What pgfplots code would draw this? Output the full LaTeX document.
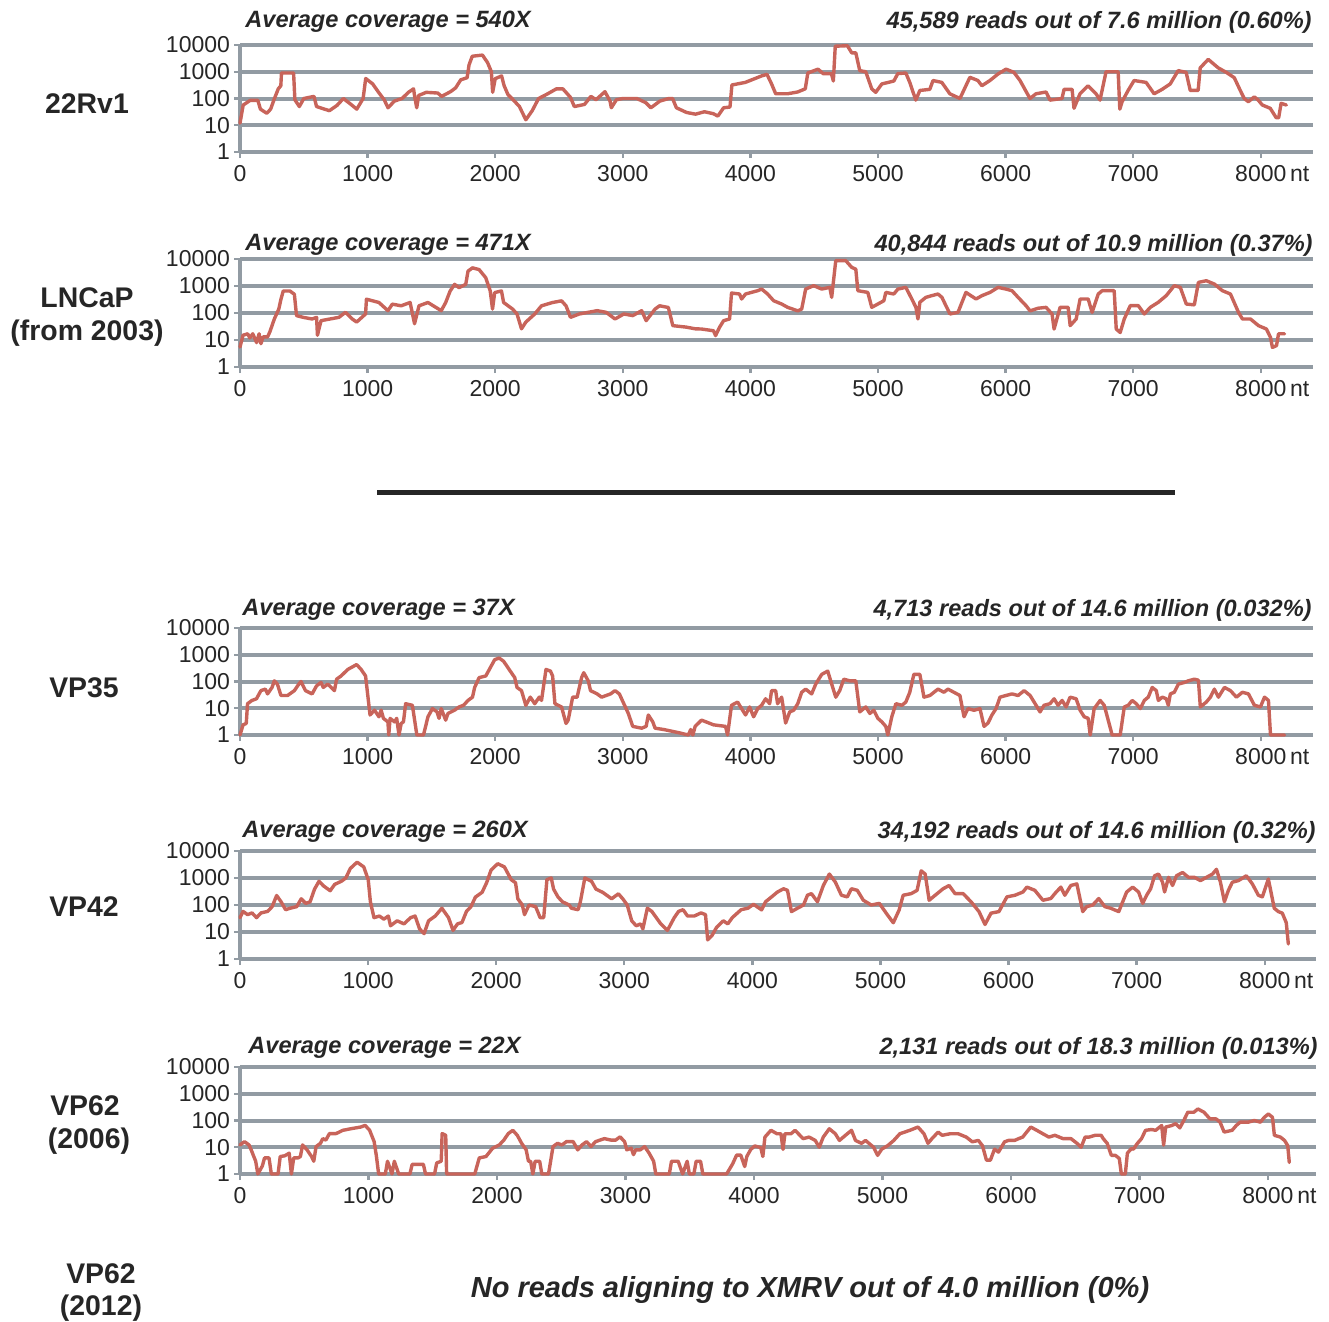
\documentclass[border=0pt]{standalone}
\usepackage{pgfplots}
\pgfplotsset{compat=1.18}
\usepackage{fontspec}
\setmainfont{Liberation Sans}
\definecolor{gridc}{RGB}{146,155,163}
\definecolor{linec}{RGB}{200,100,90}
\pgfplotsset{covstyle/.style={
  scale only axis,
  ymin=1, ymax=10000, xmin=0,
  axis x line=bottom, axis y line=left,
  axis line style={gridc, line width=1.6pt, -},
  ytick={1,10,100,1000,10000},
  yticklabels={1,10,100,1000,10000},
  yminorticks=false,
  xtick={0,1000,2000,3000,4000,5000,6000,7000,8000},
  xticklabels={0,1000,2000,3000,4000,5000,6000,7000,{8000\rlap{\,nt}}},
  ymajorgrids, grid style={gridc, line width=2pt},
  tick style={gridc, line width=1.2pt},
  major tick length=3pt,
  tick align=outside,
  ticklabel style={font=\fontsize{11.5}{12}\selectfont, text=black!85},
  yticklabel style={xshift=1.5pt},
  clip=false,
},
cov/.style={color=linec, line width=1.7pt, mark=none, line join=round, line cap=round}}
\begin{document}
\begin{tikzpicture}
\useasboundingbox (0,0) rectangle (664.5pt,-661pt);
\tikzset{ttl/.style={font=\fontsize{11.8}{12}\selectfont\bfseries\itshape, text=black!85, inner sep=0pt},
         row/.style={font=\fontsize{14.2}{15}\selectfont\bfseries, text=black!85, inner sep=0pt}}
% ---------- 22Rv1
\begin{semilogyaxis}[covstyle, at={(120pt,-76pt)}, anchor=south west, width=536.5pt, height=53.5pt, xmax=8409]
\addplot[cov] coordinates {(0,12)(25,57)(80,85)(140,85)(160,40)(210,28)(240,40)(270,100)(300,230)(320,300)(325,900)(420,900)(430,90)(465,50)(500,100)(580,120)(600,50)(700,35)(760,55)(810,100)(870,60)(915,40)(965,100)(985,560)(1040,350)(1090,160)(1130,90)(1160,45)(1210,80)(1270,100)(1320,170)(1360,230)(1370,110)(1385,45)(1400,130)(1460,170)(1550,160)(1580,120)(1650,180)(1690,250)(1730,500)(1780,600)(1795,1800)(1820,3800)(1900,4200)(1940,2200)(1970,1000)(1980,170)(2000,550)(2050,700)(2070,300)(2100,140)(2140,90)(2190,50)(2240,16)(2290,35)(2340,100)(2400,140)(2480,230)(2530,230)(2590,110)(2620,50)(2700,60)(2750,120)(2790,90)(2860,180)(2900,80)(2910,45)(2950,90)(3000,100)(3110,100)(3180,70)(3220,45)(3290,80)(3360,100)(3390,100)(3420,45)(3500,30)(3570,26)(3640,32)(3710,27)(3745,22)(3790,45)(3840,48)(3855,320)(3960,400)(4088,700)(4130,800)(4166,350)(4198,150)(4290,150)(4370,175)(4430,230)(4450,900)(4530,1250)(4570,850)(4635,850)(4650,450)(4665,9000)(4760,9400)(4794,5100)(4826,5100)(4857,1100)(4904,1000)(4951,230)(4982,170)(5030,350)(5124,450)(5155,850)(5218,900)(5249,400)(5296,87)(5328,200)(5406,220)(5431,470)(5500,400)(5563,150)(5642,100)(5720,620)(5783,470)(5814,300)(5877,470)(5940,820)(6003,1250)(6065,950)(6113,470)(6191,100)(6238,150)(6317,175)(6348,87)(6442,100)(6458,220)(6521,220)(6536,43)(6583,150)(6646,300)(6709,150)(6740,87)(6787,1000)(6882,1000)(6895,40)(6913,76)(6960,200)(7007,470)(7101,400)(7164,150)(7227,220)(7290,350)(7352,1100)(7415,950)(7447,200)(7509,200)(7525,1400)(7588,2900)(7666,1400)(7729,950)(7792,600)(7839,200)(7870,100)(7902,76)(7949,115)(7980,87)(8012,57)(8074,43)(8121,19)(8140,19)(8159,66)(8200,57)};
\end{semilogyaxis}
% ---------- LNCaP
\begin{semilogyaxis}[covstyle, at={(120pt,-183.5pt)}, anchor=south west, width=536.5pt, height=54pt, xmax=8409]
\addplot[cov] coordinates {(0,5.5)(24,15)(60,17)(77,12)(100,17)(130,8)(150,17)(164,7.3)(181,13)(216,13)(234,20)(269,60)(304,140)(321,325)(339,655)(391,655)(426,495)(443,80)(496,69)(565,60)(600,69)(607,15)(635,52)(705,60)(775,69)(827,106)(880,60)(914,46)(984,92)(991,325)(1089,245)(1159,122)(1194,213)(1263,185)(1333,245)(1368,40)(1403,185)(1473,245)(1577,122)(1612,245)(1647,655)(1682,1150)(1717,870)(1769,1150)(1787,3550)(1822,4700)(1874,4050)(1926,2020)(1961,655)(1979,140)(1996,570)(2049,655)(2066,245)(2136,140)(2171,92)(2206,26)(2240,46)(2310,92)(2363,185)(2450,245)(2520,282)(2555,185)(2590,69)(2659,92)(2799,122)(2869,106)(2939,60)(3008,92)(3078,80)(3148,122)(3183,52)(3253,140)(3288,185)(3357,160)(3392,34)(3497,30)(3567,26)(3617,25.5)(3711,22)(3727,14.5)(3758,29.5)(3790,52)(3837,60)(3852,550)(3915,505)(3931,330)(3962,505)(4057,670)(4088,770)(4135,505)(4182,285)(4245,215)(4292,162)(4371,120)(4402,140)(4433,770)(4496,1030)(4559,770)(4622,890)(4637,380)(4669,8700)(4747,8700)(4794,4900)(4826,4200)(4842,670)(4920,580)(4951,162)(4999,215)(5046,285)(5061,580)(5124,505)(5156,770)(5218,890)(5265,330)(5297,162)(5313,60)(5328,250)(5375,380)(5422,440)(5470,505)(5501,380)(5532,187)(5564,92)(5627,106)(5689,580)(5768,330)(5815,440)(5878,580)(5941,890)(6003,770)(6050,670)(6098,380)(6160,187)(6192,120)(6254,150)(6317,162)(6364,92)(6380,25.5)(6427,162)(6490,162)(6506,34)(6553,60)(6584,330)(6647,330)(6678,106)(6726,505)(6757,670)(6851,670)(6867,25.5)(6898,19)(6930,60)(6977,187)(7040,187)(7087,92)(7134,162)(7197,250)(7259,440)(7322,1030)(7369,890)(7416,215)(7479,200)(7511,1360)(7573,1570)(7636,1180)(7699,670)(7762,505)(7825,106)(7856,60)(7919,60)(7982,34)(8044,25.5)(8076,12.5)(8091,5.3)(8123,6.2)(8139,17)(8186,17)};
\end{semilogyaxis}
% ---------- VP35
\begin{semilogyaxis}[covstyle, at={(120pt,-367.5pt)}, anchor=south west, width=536.5pt, height=53.5pt, xmax=8409]
\addplot[cov] coordinates {(0,1)(24,2.4)(49,2.7)(59,14.8)(94,19.6)(129,22.6)(164,45.6)(199,52)(216,34.4)(251,60)(269,106)(293,80)(321,30)(373,30)(426,45.6)(461,80)(478,100)(513,45.6)(565,34.4)(600,69)(635,92)(653,60)(688,80)(740,45.6)(757,122)(792,161)(845,283)(914,430)(949,283)(984,161)(1019,5.6)(1054,8.5)(1089,4.8)(1106,8.5)(1124,4.2)(1159,3.1)(1166,1)(1176,4.2)(1211,3.1)(1228,4.2)(1246,1)(1263,2.7)(1281,3.1)(1298,14.8)(1351,12.9)(1386,1)(1438,1)(1473,4.8)(1508,9.7)(1543,7.4)(1560,4.2)(1577,9.7)(1612,3.6)(1630,6.4)(1682,8.5)(1717,11.2)(1752,12.9)(1787,19.6)(1822,26)(1839,60)(1874,140)(1926,161)(1961,325)(1996,655)(2031,755)(2066,570)(2118,245)(2153,140)(2171,60)(2206,45.6)(2240,12.9)(2275,26)(2310,14.8)(2345,26)(2363,19.6)(2398,283)(2433,245)(2450,161)(2468,14.8)(2520,11.2)(2555,2.7)(2572,3.6)(2607,26)(2642,26)(2677,140)(2694,213)(2729,106)(2747,45.6)(2799,34.4)(2834,26)(2904,34.4)(2939,45.6)(2973,34.4)(3008,14.8)(3043,6.4)(3078,2.1)(3148,1.8)(3183,2.1)(3200,5.6)(3235,3.1)(3253,1.8)(3322,1.6)(3445,1.2)(3514,1)(3532,1.6)(3549,1)(3567,2.1)(3617,3.6)(3711,2.4)(3805,2.1)(3821,1)(3852,12.9)(3900,17)(3931,9.7)(3962,5.6)(3994,11.2)(4025,4.8)(4057,9.7)(4088,12.9)(4119,22.6)(4151,14.8)(4166,45.6)(4198,45.6)(4213,14.8)(4245,26)(4276,2.8)(4308,7.3)(4339,8.4)(4371,14.8)(4402,39.6)(4433,52)(4480,34.4)(4512,80)(4559,185)(4606,245)(4637,80)(4669,26)(4700,45.6)(4732,122)(4779,106)(4826,106)(4857,7.3)(4904,11.2)(4936,6.4)(4967,8.4)(4999,4.2)(5030,3.1)(5061,2.1)(5077,1)(5108,4.8)(5140,14.8)(5187,12.9)(5218,17)(5249,39.6)(5281,185)(5328,185)(5360,26)(5407,30)(5470,52)(5517,39.6)(5548,52)(5595,39.6)(5642,30)(5674,4.8)(5705,9.7)(5752,8.4)(5799,9.7)(5831,2.1)(5862,2.8)(5893,5.6)(5925,9.7)(5956,26)(6003,30)(6050,34.4)(6098,30)(6145,45.6)(6192,30)(6239,12.9)(6270,7.3)(6301,12.9)(6348,14.8)(6380,22.6)(6411,12.9)(6443,19.6)(6474,11.2)(6505,26)(6553,22.6)(6584,8.4)(6616,4.8)(6647,4.2)(6663,1)(6694,9.7)(6741,19.6)(6773,12.9)(6804,3.6)(6835,1)(6898,1)(6930,11.2)(6961,12.9)(6992,19.6)(7024,14.8)(7055,9.7)(7087,19.6)(7118,26)(7149,60)(7181,45.6)(7197,19.6)(7228,26)(7259,22.6)(7275,12.9)(7291,34.4)(7322,39.6)(7354,80)(7401,92)(7432,106)(7479,122)(7511,112)(7526,11.2)(7573,17)(7605,26)(7636,52)(7668,26)(7715,60)(7762,45.6)(7809,26)(7856,39.6)(7903,34.4)(7950,12.9)(7997,11.2)(8029,26)(8060,19.6)(8076,1)(8186,1)};
\end{semilogyaxis}
% ---------- VP42
\begin{semilogyaxis}[covstyle, at={(120pt,-479.5pt)}, anchor=south west, width=538pt, height=54pt, xmax=8400]
\addplot[cov] coordinates {(0,34)(24,58)(59,44)(94,51)(129,34)(164,51)(216,58)(251,87)(286,225)(321,131)(356,67)(391,76)(443,87)(478,170)(513,115)(547,131)(582,388)(617,760)(652,510)(704,338)(739,580)(792,760)(826,1000)(861,2250)(914,3860)(966,2580)(1001,870)(1018,131)(1046,34)(1088,39)(1123,30)(1158,39)(1175,17)(1227,26)(1280,20)(1332,34)(1367,39)(1402,13)(1437,8.7)(1472,26)(1524,39)(1576,76)(1628,34)(1663,11.5)(1698,20)(1733,22.5)(1768,58)(1803,87)(1838,197)(1890,295)(1925,665)(1960,1970)(2012,3380)(2064,2580)(2117,870)(2151,665)(2169,170)(2204,100)(2221,44)(2256,100)(2308,87)(2343,34)(2371,34)(2396,870)(2430,1000)(2448,388)(2483,197)(2518,131)(2570,100)(2587,76)(2640,67)(2657,131)(2692,1000)(2744,760)(2779,388)(2831,295)(2866,225)(2901,170)(2954,260)(2988,170)(3023,100)(3058,26)(3093,17)(3128,20)(3145,13)(3180,76)(3215,58)(3250,34)(3285,20)(3337,11.5)(3390,34)(3424,58)(3459,67)(3494,39)(3546,39)(3599,51)(3634,44)(3651,5.1)(3686,7.6)(3721,15)(3773,26)(3808,20)(3843,34)(3912,67)(3965,76)(4009,106)(4072,66)(4103,132)(4150,200)(4196,303)(4243,400)(4274,350)(4305,57)(4352,76)(4399,100)(4430,230)(4461,264)(4508,132)(4554,528)(4601,1400)(4648,700)(4695,230)(4741,200)(4773,400)(4819,350)(4866,150)(4928,100)(4991,115)(5053,44)(5100,22)(5146,66)(5177,230)(5240,264)(5286,350)(5318,1840)(5349,1400)(5380,150)(5427,230)(5489,400)(5536,528)(5582,264)(5645,264)(5707,132)(5769,57)(5816,19)(5863,50)(5925,57)(5987,200)(6050,230)(6112,303)(6143,460)(6205,350)(6268,150)(6330,174)(6361,264)(6408,460)(6439,230)(6486,528)(6533,606)(6579,57)(6610,87)(6657,100)(6704,174)(6751,87)(6797,76)(6860,57)(6922,303)(6969,460)(7015,303)(7047,115)(7078,230)(7109,400)(7140,1210)(7171,1400)(7202,700)(7218,303)(7249,1060)(7280,528)(7311,1210)(7358,1600)(7405,1060)(7451,1060)(7498,800)(7545,1060)(7592,1400)(7623,2100)(7654,700)(7685,132)(7716,350)(7747,700)(7794,800)(7856,1210)(7903,606)(7950,230)(7981,200)(8028,920)(8074,76)(8106,57)(8137,50)(8168,22)(8184,3.6)};
\end{semilogyaxis}
% ---------- VP62 (2006)
\begin{semilogyaxis}[covstyle, at={(120pt,-587pt)}, anchor=south west, width=538pt, height=53.5pt, xmax=8374]
\addplot[cov] coordinates {(0,12.2)(35,16.2)(70,12.2)(87,8)(122,3)(139,1)(174,2)(191,4)(226,4)(244,1)(296,1)(313,4.5)(348,4.8)(383,6)(400,1)(418,4)(452,4)(470,4.5)(487,12.2)(522,8)(557,4.5)(574,3)(592,10.6)(626,14)(644,21)(668,18.5)(696,32.5)(748,32.5)(800,43)(870,50)(940,57)(974,66)(1009,43)(1044,16.2)(1062,4.5)(1079,1)(1131,1)(1148,3)(1183,1)(1201,3)(1235,1)(1322,1)(1340,2.3)(1427,2.3)(1444,1)(1514,1)(1531,2.6)(1566,3)(1573,32.5)(1601,28)(1608,1)(1827,1)(1862,4)(1914,4.5)(1966,9.2)(2018,12.2)(2053,18.5)(2088,32.5)(2123,43)(2158,28)(2192,14)(2227,8)(2245,3)(2262,3)(2279,1)(2297,3)(2332,3)(2349,1)(2401,1)(2436,10.6)(2471,14)(2506,12.2)(2540,16.2)(2593,16.2)(2628,8)(2662,12.2)(2697,16.2)(2732,10.6)(2767,16.2)(2801,18.5)(2836,21)(2888,18.5)(2923,18.5)(2958,24.5)(2993,16.2)(3010,8)(3045,9.2)(3062,5.3)(3080,8)(3115,8)(3149,10.6)(3184,6)(3219,3)(3236,1)(3341,1)(3358,3)(3410,3)(3445,1)(3480,3)(3497,1)(3532,1)(3550,3)(3584,3)(3602,1)(3787,1)(3834,2.4)(3865,5.1)(3897,5.1)(3928,1.9)(3944,4.5)(3975,8.3)(4006,11.2)(4053,9.7)(4069,4.5)(4085,24)(4132,43)(4179,32)(4210,32)(4226,8.3)(4241,32)(4288,32)(4320,43)(4382,21)(4429,24)(4477,18)(4508,10)(4539,24)(4586,49)(4633,32)(4665,18)(4712,28)(4759,43)(4790,18)(4837,14)(4868,18)(4931,10)(4962,5)(4994,8.5)(5041,11.5)(5088,18)(5135,32)(5213,43)(5276,57)(5323,32)(5354,14)(5385,21)(5433,37)(5464,28)(5527,32)(5589,32)(5652,24)(5699,16)(5746,18)(5778,11.5)(5809,3.3)(5840,3.3)(5872,8.5)(5903,6.6)(5950,16)(5981,18)(6028,18)(6060,21)(6091,24)(6154,57)(6201,43)(6248,32)(6295,24)(6342,28)(6405,21)(6467,21)(6514,14)(6546,10)(6577,24)(6608,24)(6655,28)(6702,28)(6718,21)(6749,14)(6781,5)(6812,5)(6843,3.8)(6859,1)(6890,1)(6906,6)(6937,8.9)(6953,8.5)(6984,14)(7016,21)(7047,43)(7094,46)(7126,43)(7173,65)(7188,12)(7204,57)(7251,65)(7282,76)(7314,53)(7345,100)(7376,204)(7423,204)(7455,270)(7502,204)(7549,115)(7596,115)(7627,87)(7659,37)(7721,43)(7753,65)(7784,87)(7847,87)(7894,100)(7941,87)(7972,132)(8003,175)(8035,132)(8050,28)(8097,24)(8129,18)(8154,11.5)(8166,2.7)};
\end{semilogyaxis}
% ---------- titles
\node[ttl, anchor=west] at (122.5pt,-11pt) {Average coverage = 540X};
\node[ttl, anchor=east] at (656pt,-11pt) {45,589 reads out of 7.6 million (0.60\%)};
\node[ttl, anchor=west] at (122.5pt,-122.5pt) {Average coverage = 471X};
\node[ttl, anchor=east] at (656.5pt,-122.5pt) {40,844 reads out of 10.9 million (0.37\%)};
\node[ttl, anchor=west] at (121pt,-305pt) {Average coverage = 37X};
\node[ttl, anchor=east] at (656pt,-305pt) {4,713 reads out of 14.6 million (0.032\%)};
\node[ttl, anchor=west] at (121pt,-416pt) {Average coverage = 260X};
\node[ttl, anchor=east] at (658pt,-416pt) {34,192 reads out of 14.6 million (0.32\%)};
\node[ttl, anchor=west] at (124pt,-524pt) {Average coverage = 22X};
\node[ttl, anchor=east] at (659pt,-524pt) {2,131 reads out of 18.3 million (0.013\%)};
% ---------- row labels
\node[row] at (43.5pt,-52pt) {22Rv1};
\node[row] at (43.5pt,-149pt) {LNCaP};
\node[row] at (43.5pt,-166.5pt) {(from 2003)};
\node[row] at (42pt,-344pt) {VP35};
\node[row] at (42pt,-453.5pt) {VP42};
\node[row] at (42.5pt,-553pt) {VP62};
\node[row] at (44.5pt,-570.5pt) {(2006)};
\node[row] at (50.5pt,-637pt) {VP62};
\node[row] at (50.5pt,-654pt) {(2012)};
\node[font=\fontsize{14.5}{15}\selectfont\bfseries\itshape, text=black!85, inner sep=0pt] at (405pt,-645pt) {No reads aligning to XMRV out of 4.0 million (0\%)};
% ---------- separator
\draw[line width=2.5pt, black!85] (188.5pt,-246pt) -- (587.5pt,-246pt);
\end{tikzpicture}
\end{document}
